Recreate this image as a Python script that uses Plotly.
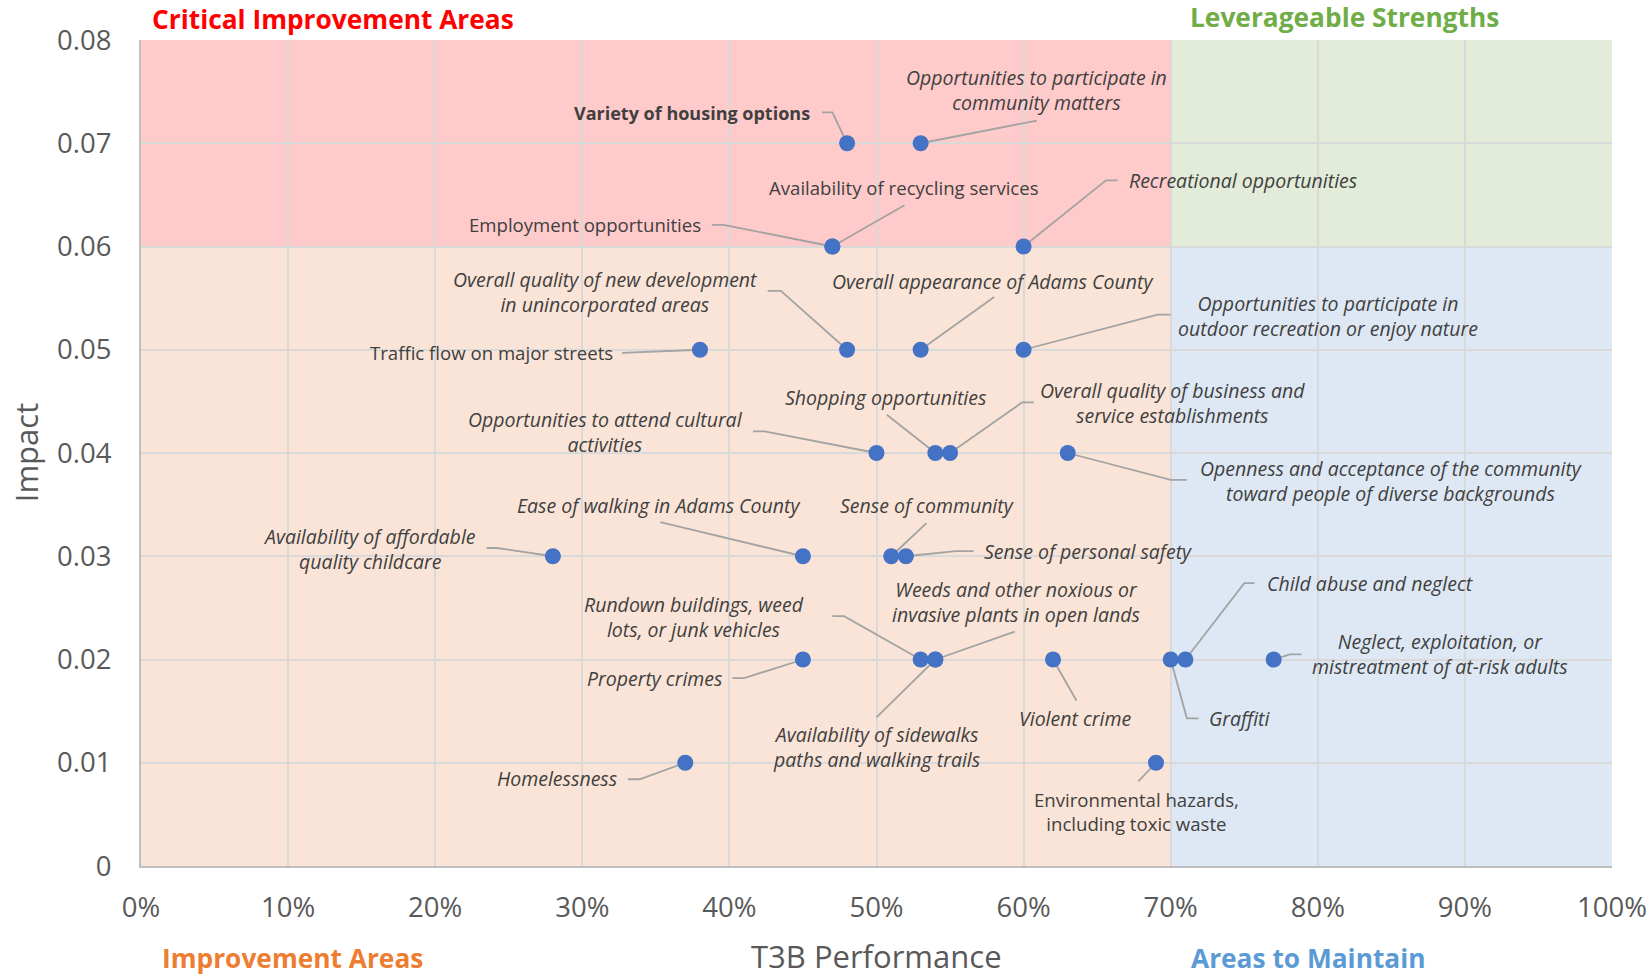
import plotly.graph_objects as go

# ---------------- data ----------------
categories = [
    "Variety of housing options",
    "Opportunities to participate in community matters",
    "Employment opportunities",
    "Availability of recycling services",
    "Recreational opportunities",
    "Overall quality of new development in unincorporated areas",
    "Overall appearance of Adams County",
    "Opportunities to participate in outdoor recreation or enjoy nature",
    "Traffic flow on major streets",
    "Opportunities to attend cultural activities",
    "Shopping opportunities",
    "Overall quality of business and service establishments",
    "Openness and acceptance of the community toward people of diverse backgrounds",
    "Availability of affordable quality childcare",
    "Ease of walking in Adams County",
    "Sense of community",
    "Sense of personal safety",
    "Rundown buildings, weed lots, or junk vehicles",
    "Weeds and other noxious or invasive plants in open lands",
    "Availability of sidewalks paths and walking trails",
    "Property crimes",
    "Violent crime",
    "Graffiti",
    "Child abuse and neglect",
    "Neglect, exploitation, or mistreatment of at-risk adults",
    "Homelessness",
    "Environmental hazards, including toxic waste",
]
t3b_performance = [0.48, 0.53, 0.47, 0.47, 0.60, 0.48, 0.53, 0.60, 0.38, 0.50,
                   0.54, 0.55, 0.63, 0.28, 0.45, 0.51, 0.52, 0.53, 0.54, 0.54,
                   0.45, 0.62, 0.70, 0.71, 0.77, 0.37, 0.69]
impact = [0.07, 0.07, 0.06, 0.06, 0.06, 0.05, 0.05, 0.05, 0.05, 0.04,
          0.04, 0.04, 0.04, 0.03, 0.03, 0.03, 0.03, 0.02, 0.02, 0.02,
          0.02, 0.02, 0.02, 0.02, 0.02, 0.01, 0.01]

x_tickvals = [0, 0.1, 0.2, 0.3, 0.4, 0.5, 0.6, 0.7, 0.8, 0.9, 1.0]
y_tickvals = [0, 0.01, 0.02, 0.03, 0.04, 0.05, 0.06, 0.07, 0.08]
y_ticktext = ["0", "0.01", "0.02", "0.03", "0.04", "0.05", "0.06", "0.07", "0.08"]

perf_threshold = 0.70
impact_threshold = 0.06

quadrant_titles = ["Critical Improvement Areas", "Leverageable Strengths",
                   "Improvement Areas", "Areas to Maintain"]

# ---------------- label layout (text, anchor, position, leader path, style) ----------------
N, I, B = "normal", "italic", "bold"
label_layout = [
    ("Variety of housing options", "right", (0.456, 0.0729), [(0.470, 0.0730), (0.463, 0.0730)], B),
    ("Opportunities to participate in<br>community matters", "center", (0.609, 0.0752), [(0.609, 0.0722)], I),
    ("Employment opportunities", "right", (0.382, 0.0621), [(0.396, 0.0621), (0.388, 0.0621)], N),
    ("Availability of recycling services", "center", (0.519, 0.0657), [(0.519, 0.0640)], N),
    ("Recreational opportunities", "left", (0.670, 0.0664), [(0.656, 0.0664), (0.664, 0.0664)], I),
    ("Overall quality of new development<br>in unincorporated areas", "center", (0.316, 0.0556), [(0.435, 0.0557), (0.426, 0.0557)], I),
    ("Overall appearance of Adams County", "center", (0.579, 0.0566), [(0.580, 0.0551)], I),
    ("Opportunities to participate in<br>outdoor recreation or enjoy nature", "center", (0.807, 0.0533), [(0.691, 0.0534), (0.700, 0.0534)], I),
    ("Traffic flow on major streets", "right", (0.322, 0.0497), [(0.327, 0.0497)], N),
    ("Opportunities to attend cultural<br>activities", "center", (0.316, 0.0420), [(0.424, 0.0421), (0.416, 0.0421)], I),
    ("Shopping opportunities", "center", (0.506, 0.0454), [(0.507, 0.0437)], I),
    ("Overall quality of business and<br>service establishments", "center", (0.701, 0.0448), [(0.599, 0.0449), (0.607, 0.0449)], I),
    ("Openness and acceptance of the community<br>toward people of diverse backgrounds", "center", (0.850, 0.0373), [(0.700, 0.0374), (0.711, 0.0374)], I),
    ("Availability of affordable<br>quality childcare", "center", (0.155, 0.0307), [(0.242, 0.0308), (0.235, 0.0308)], I),
    ("Ease of walking in Adams County", "center", (0.352, 0.0349), [(0.353, 0.0333)], I),
    ("Sense of community", "center", (0.534, 0.0349), [(0.534, 0.0332)], I),
    ("Sense of personal safety", "left", (0.572, 0.0305), [(0.554, 0.0305), (0.566, 0.0305)], I),
    ("Rundown buildings, weed<br>lots, or junk vehicles", "center", (0.376, 0.0241), [(0.478, 0.0242), (0.470, 0.0242)], I),
    ("Weeds and other noxious or<br>invasive plants in open lands", "center", (0.595, 0.0256), [(0.594, 0.0227)], I),
    ("Availability of sidewalks<br>paths and walking trails", "center", (0.500, 0.0115), [(0.500, 0.0144)], I),
    ("Property crimes", "right", (0.396, 0.0182), [(0.410, 0.0182), (0.402, 0.0182)], I),
    ("Violent crime", "center", (0.635, 0.0143), [(0.636, 0.0160)], I),
    ("Graffiti", "left", (0.725, 0.0143), [(0.711, 0.0143), (0.719, 0.0143)], I),
    ("Child abuse and neglect", "left", (0.764, 0.0274), [(0.750, 0.0274), (0.757, 0.0274)], I),
    ("Neglect, exploitation, or<br>mistreatment of at-risk adults", "center", (0.883, 0.0205), [(0.781, 0.0205), (0.789, 0.0205)], I),
    ("Homelessness", "right", (0.325, 0.0085), [(0.339, 0.0084), (0.331, 0.0084)], I),
    ("Environmental hazards,<br>including toxic waste", "center", (0.677, 0.0053), [(0.678, 0.0082)], N),
]

FONT = "Open Sans"
LABEL_COLOR = "#404040"
AXIS_COLOR = "#595959"
LEADER_COLOR = "#A3A3A3"
SIZE_BY_STYLE = {N: 18.6, I: 19.5, B: 18}

fig = go.Figure()

# leader lines
for i, (txt, anchor, pos, path, style) in enumerate(label_layout):
    xs = [t3b_performance[i]] + [p[0] for p in path]
    ys = [impact[i]] + [p[1] for p in path]
    fig.add_trace(go.Scatter(x=xs, y=ys, mode="lines",
                             line=dict(color=LEADER_COLOR, width=1.8),
                             hoverinfo="skip", showlegend=False))

# points
fig.add_trace(go.Scatter(x=t3b_performance, y=impact, mode="markers", text=categories,
                         marker=dict(size=16, color="#4472C4", line=dict(width=0)),
                         showlegend=False, hovertemplate="%{text}<br>%{x:.0%} / %{y}<extra></extra>"))

# labels
annotations = []
for i, (txt, anchor, pos, path, style) in enumerate(label_layout):
    f = dict(family=FONT, size=SIZE_BY_STYLE[style], color=LABEL_COLOR)
    if style == I:
        f["style"] = "italic"
    if style == B:
        f["weight"] = "bold"
    annotations.append(dict(x=pos[0], y=pos[1], xref="x", yref="y", text=txt,
                            showarrow=False, xanchor=anchor, yanchor="middle",
                            align="center", font=f))

# quadrant titles
qcolors = ["#FF0000", "#70AD47", "#ED7D31", "#5B9BD5"]
qpos = [(0.006, 1.0254, "left"), (0.818, 1.0275, "center"),
        (0.103, -0.1115, "center"), (0.794, -0.1115, "center")]
for t, c, (px, py, xa) in zip(quadrant_titles, qcolors, qpos):
    annotations.append(dict(x=px, y=py, xref="paper", yref="paper", text=t,
                            showarrow=False, xanchor=xa, yanchor="middle",
                            font=dict(family=FONT, size=26.3, color=c, weight="bold")))

# axis titles
annotations.append(dict(x=-0.078, y=0.5, xref="paper", yref="paper", text="Impact",
                        showarrow=False, textangle=-90, xanchor="center", yanchor="middle",
                        font=dict(family=FONT, size=31, color=AXIS_COLOR)))
annotations.append(dict(x=0.5, y=-0.109, xref="paper", yref="paper", text="T3B Performance",
                        showarrow=False, xanchor="center", yanchor="middle",
                        font=dict(family=FONT, size=31, color=AXIS_COLOR)))

# quadrant backgrounds
shapes = [
    dict(type="rect", xref="x", yref="y", x0=0, x1=perf_threshold, y0=impact_threshold, y1=0.08,
         fillcolor="#FFCACA", line=dict(width=0), layer="below"),
    dict(type="rect", xref="x", yref="y", x0=perf_threshold, x1=1, y0=impact_threshold, y1=0.08,
         fillcolor="#E2ECD9", line=dict(width=0), layer="below"),
    dict(type="rect", xref="x", yref="y", x0=0, x1=perf_threshold, y0=0, y1=impact_threshold,
         fillcolor="#FAE4D7", line=dict(width=0), layer="below"),
    dict(type="rect", xref="x", yref="y", x0=perf_threshold, x1=1, y0=0, y1=impact_threshold,
         fillcolor="#DEE8F4", line=dict(width=0), layer="below"),
]

fig.update_layout(
    width=1652, height=977,
    margin=dict(l=141, r=40, t=40, b=111, autoexpand=False),
    paper_bgcolor="white", plot_bgcolor="white",
    font=dict(family=FONT, color=AXIS_COLOR),
    annotations=annotations, shapes=shapes,
    xaxis=dict(range=[0, 1.0], tickmode="array", tickvals=x_tickvals, tickformat=".0%",
               showgrid=True, gridcolor="#D9D9D9", gridwidth=2, zeroline=False,
               showline=True, linecolor="#BFBFBF", linewidth=2, automargin=False,
               tickfont=dict(family=FONT, size=27.5, color=AXIS_COLOR),
               ticks="", ticklabelstandoff=16, ticklabeloverflow="allow"),
    yaxis=dict(range=[0, 0.08], tickmode="array", tickvals=y_tickvals, ticktext=y_ticktext,
               showgrid=True, gridcolor="#D9D9D9", gridwidth=2, zeroline=False,
               showline=True, linecolor="#BFBFBF", linewidth=2, automargin=False,
               tickfont=dict(family=FONT, size=27.5, color=AXIS_COLOR),
               ticks="", ticklabelstandoff=22),
)

# remove the default 8px page margin so the figure fills the window exactly
fig.write_html("out.html", config={"displayModeBar": False},
               post_script="document.body.style.margin='0';")
